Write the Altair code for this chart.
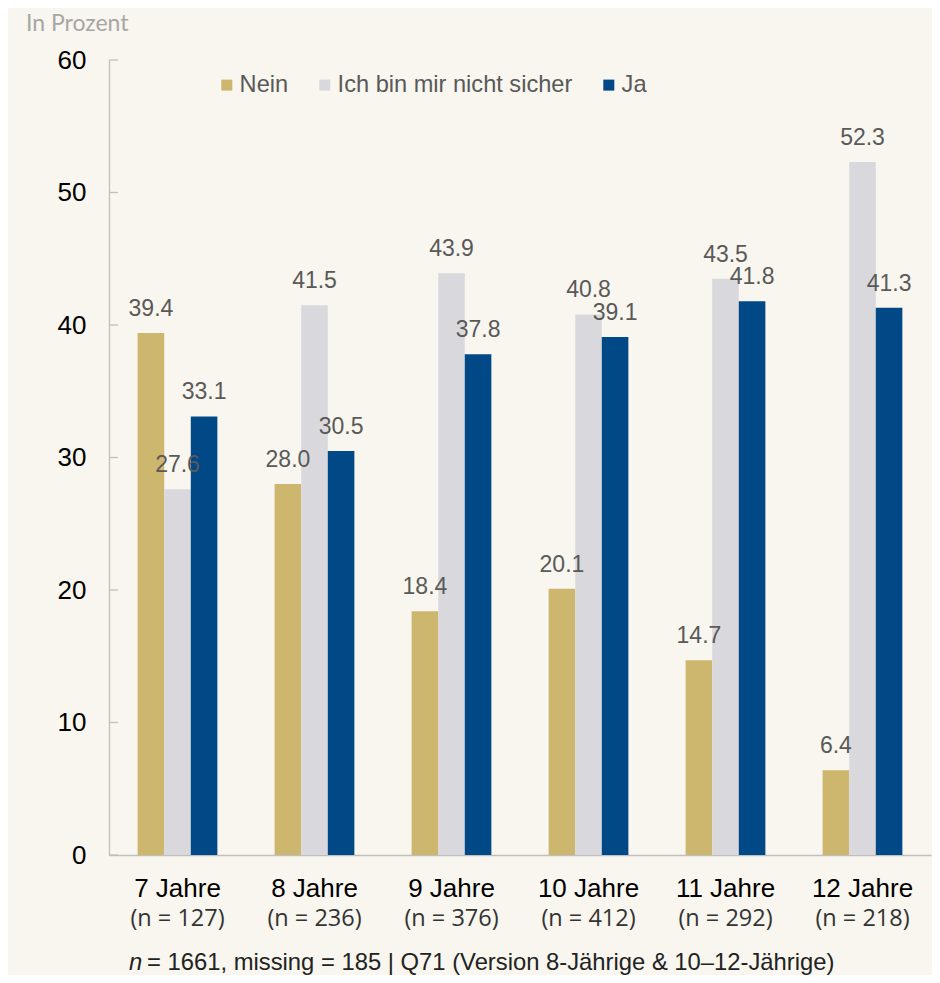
import altair as alt
import pandas as pd

# ---- data ----
ages = ["7 Jahre", "8 Jahre", "9 Jahre", "10 Jahre", "11 Jahre", "12 Jahre"]
n_labels = ["(n = 127)", "(n = 236)", "(n = 376)", "(n = 412)", "(n = 292)", "(n = 218)"]
series = ["Nein", "Ich bin mir nicht sicher", "Ja"]
nein = [39.4, 28.0, 18.4, 20.1, 14.7, 6.4]
unsicher = [27.6, 41.5, 43.9, 40.8, 43.5, 52.3]
ja = [33.1, 30.5, 37.8, 39.1, 41.8, 41.3]
colors = ["#CDB66E", "#D9D9DD", "#014886"]
y_ticks = [0, 10, 20, 30, 40, 50, 60]
y_title = "In Prozent"
footnote_n = "n"
footnote_rest = "= 1661, missing = 185 | Q71 (Version 8-Jährige & 10–12-Jährige)"

rows = []
for s, vals in zip(series, [nein, unsicher, ja]):
    for a, v in zip(ages, vals):
        rows.append({"Alter": a, "Antwort": s, "Wert": v})
df = pd.DataFrame(rows)
cat_df = pd.DataFrame({"Alter": ages, "n": n_labels})
tick_df = pd.DataFrame({"Wert": y_ticks})
title_df = pd.DataFrame({"t": [y_title]})
fn_n_df = pd.DataFrame({"t": [footnote_n]})
fn_rest_df = pd.DataFrame({"t": [footnote_rest]})

W, H = 822, 795
BG = "#F8F6EE"
AXIS_GRAY = "#BFBFBF"

x_scale = alt.Scale(domain=ages, paddingInner=0.418, paddingOuter=0.209)
y_scale = alt.Scale(domain=[0, 60], nice=False)

x_axis = alt.Axis(labels=False, ticks=False, title=None, grid=False,
                  domainColor=AXIS_GRAY, domainWidth=1.3)
y_axis = alt.Axis(values=y_ticks, title=None, grid=False, ticks=False,
                  tickSize=0, labelPadding=23, labelFontSize=26,
                  labelColor="#000000", labelFont="Liberation Sans",
                  domainColor=AXIS_GRAY, domainWidth=1.3)


def xe():
    return alt.X("Alter:N", sort=ages, scale=x_scale, axis=x_axis)


def ye():
    return alt.Y("Wert:Q", scale=y_scale, axis=y_axis)


xo_enc = alt.XOffset("Antwort:N", sort=series,
                     scale=alt.Scale(domain=series, paddingInner=0, paddingOuter=0))

bars = alt.Chart(df).mark_bar(strokeWidth=0).encode(
    x=xe(),
    y=ye(),
    xOffset=xo_enc,
    color=alt.Color("Antwort:N", sort=series,
                    scale=alt.Scale(domain=series, range=colors),
                    legend=alt.Legend(title=None, orient="none", legendX=106, legendY=13,
                                      direction="horizontal", symbolType="square",
                                      symbolSize=121, symbolStrokeWidth=0,
                                      symbolOpacity=1, labelFontSize=23.6,
                                      labelFont="Liberation Sans", labelColor="#595959",
                                      labelOffset=1, columnPadding=24, labelLimit=400)),
)

labels = alt.Chart(df).mark_text(
    baseline="alphabetic", dy=-17, fontSize=23, font="Liberation Sans", color="#595959"
).encode(
    x=xe(),
    y=ye(),
    xOffset=xo_enc,
    text=alt.Text("Wert:Q", format=".1f"),
)

ticks = alt.Chart(tick_df).mark_rule(color=AXIS_GRAY, strokeWidth=1.3).encode(
    y=ye(),
    x=alt.value(0),
    x2=alt.value(9),
)

cat1 = alt.Chart(cat_df).mark_text(
    baseline="alphabetic", fontSize=26, font="Liberation Sans", color="#000000"
).encode(
    x=xe(),
    y=alt.value(837),
    text="Alter:N",
)

cat2 = alt.Chart(cat_df).mark_text(
    baseline="alphabetic", fontSize=23.5, font="Open Sans", color="#333333"
).encode(
    x=xe(),
    y=alt.value(866),
    text="n:N",
)

ytitle = alt.Chart(title_df).mark_text(
    baseline="alphabetic", align="left", fontSize=23, font="Lato", color="#A6A6A6"
).encode(x=alt.value(-83), y=alt.value(-29), text="t:N")

fn1 = alt.Chart(fn_n_df).mark_text(
    baseline="alphabetic", align="left", fontSize=23.8, font="Liberation Sans",
    fontStyle="italic", color="#222222"
).encode(x=alt.value(20), y=alt.value(910), text="t:N")

fn2 = alt.Chart(fn_rest_df).mark_text(
    baseline="alphabetic", align="left", fontSize=23.8, font="Liberation Sans",
    color="#222222"
).encode(x=alt.value(38), y=alt.value(910), text="t:N")

chart = alt.layer(bars, labels, ticks, cat1, cat2, ytitle, fn1, fn2).properties(
    width=W,
    height=H,
    padding={"left": 101, "top": 52, "right": 1, "bottom": 120},
    autosize=alt.AutoSizeParams(type="none"),
).configure(background=BG).configure_view(stroke=None)

chart.save("out.html", embed_options={"renderer": "svg", "actions": False})
